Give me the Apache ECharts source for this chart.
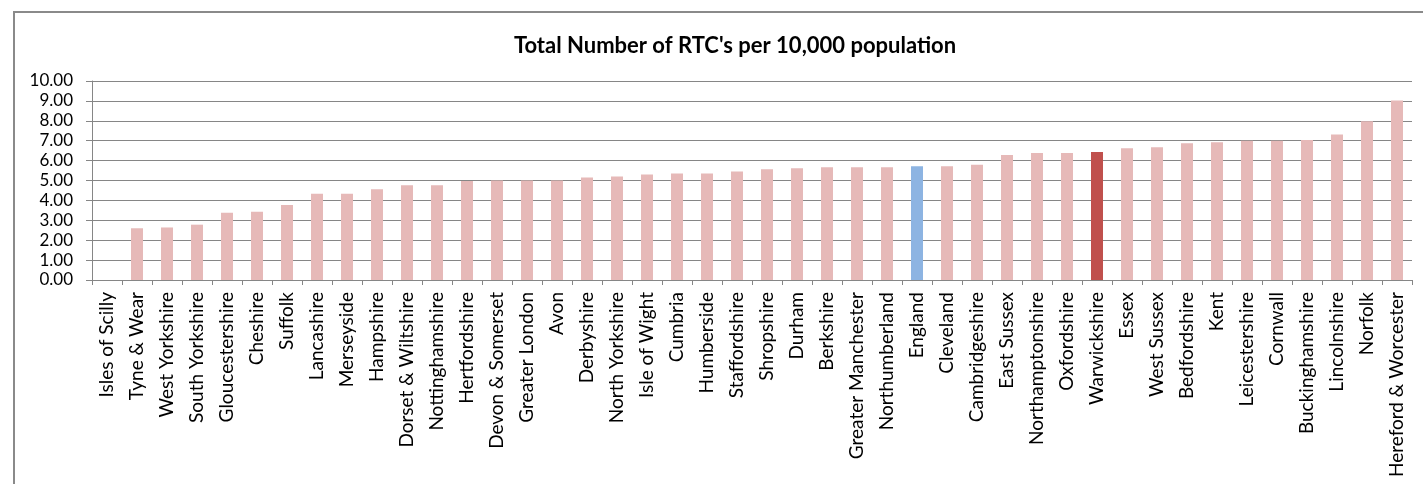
<!DOCTYPE html>
<html>
<head>
<meta charset="utf-8">
<script src="https://cdn.jsdelivr.net/npm/echarts@6/dist/echarts.min.js"></script>
<style>
html,body{margin:0;padding:0;background:#fff;}
#frame{position:absolute;left:13px;top:11px;width:1500px;height:600px;border-left:2px solid #8a8a8a;border-top:2px solid #8a8a8a;box-sizing:border-box;}
#chart{position:absolute;left:0;top:0;width:1423px;height:484px;}
</style>
</head>
<body>
<div id="frame"></div>
<div id="chart"></div>
<script>
const title = "Total Number of RTC's per 10,000 population";
const categories = ["Isles of Scilly","Tyne & Wear","West Yorkshire","South Yorkshire","Gloucestershire","Cheshire","Suffolk","Lancashire","Merseyside","Hampshire","Dorset & Wiltshire","Nottinghamshire","Hertfordshire","Devon & Somerset","Greater London","Avon","Derbyshire","North Yorkshire","Isle of Wight","Cumbria","Humberside","Staffordshire","Shropshire","Durham","Berkshire","Greater Manchester","Northumberland","England","Cleveland","Cambridgeshire","East Sussex","Northamptonshire","Oxfordshire","Warwickshire","Essex","West Sussex","Bedfordshire","Kent","Leicestershire","Cornwall","Buckinghamshire","Lincolnshire","Norfolk","Hereford & Worcester"];
const values = [0,2.60,2.64,2.78,3.38,3.43,3.77,4.33,4.33,4.56,4.76,4.76,4.97,5.00,5.00,5.00,5.15,5.20,5.30,5.35,5.35,5.45,5.56,5.61,5.66,5.66,5.66,5.71,5.71,5.79,6.28,6.38,6.38,6.43,6.62,6.67,6.87,6.92,7.00,7.00,7.04,7.31,7.98,9.02];
const yTicks = [0,1,2,3,4,5,6,7,8,9,10];

const baseColor = '#E6B9B8';
const highlight = {"England":'#8DB4E2',"Warwickshire":'#C0504D'};
const font = 'Lato';

const chart = echarts.init(document.getElementById('chart'), null, {renderer:'canvas'});
chart.setOption({
  animation:false,
  backgroundColor:'transparent',
  title:{text:title,left:730,textAlign:'center',top:30,textStyle:{fontFamily:font,fontWeight:'bold',fontSize:22,color:'#000'}},
  grid:{left:92,right:11,top:81,bottom:204,containLabel:false},
  xAxis:{
    type:'category',data:categories,
    axisLine:{lineStyle:{color:'#868686',width:1}},
    axisTick:{show:true,alignWithLabel:false,length:5,lineStyle:{color:'#868686'}},
    axisLabel:{rotate:90,interval:0,fontFamily:font,fontSize:19,color:'#000',margin:12}
  },
  yAxis:{
    type:'value',min:yTicks[0],max:yTicks[yTicks.length-1],interval:1,
    axisLine:{show:true,lineStyle:{color:'#868686'}},
    axisTick:{show:true,inside:false,length:6,lineStyle:{color:'#868686'}},
    splitLine:{lineStyle:{color:'#868686',width:1}},
    axisLabel:{fontFamily:font,fontSize:17,color:'#000',margin:19,formatter:v=>v.toFixed(2)}
  },
  series:[{
    type:'bar',barWidth:12,
    data:values.map((v,i)=>({value:v,itemStyle:{color:highlight[categories[i]]||baseColor}}))
  }]
});
</script>
</body>
</html>
